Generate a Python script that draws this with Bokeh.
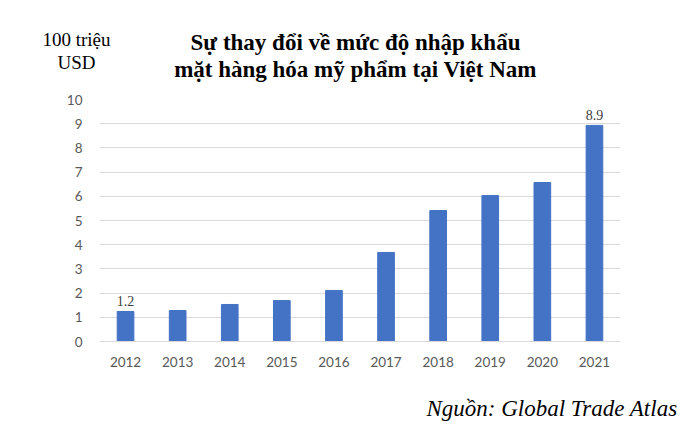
from bokeh.plotting import figure
from bokeh.models import ColumnDataSource, Label, LabelSet, Range1d
from bokeh.embed import file_html
from bokeh.resources import INLINE

years = ["2012", "2013", "2014", "2015", "2016", "2017", "2018", "2019", "2020", "2021"]
values = [1.24, 1.28, 1.53, 1.69, 2.11, 3.68, 5.41, 6.03, 6.57, 8.93]
bar_labels = ["1.2", "", "", "", "", "", "", "", "", "8.9"]
y_ticks = [0, 1, 2, 3, 4, 5, 6, 7, 8, 9, 10]

title_lines = ["Sự thay đổi về mức độ nhập khẩu", "mặt hàng hóa mỹ phẩm tại Việt Nam"]
unit_lines = ["100 triệu", "USD"]
source_text = "Nguồn: Global Trade Atlas"

W = 687


def text_fig(h):
    f = figure(width=W, height=h, x_range=Range1d(0, 1), y_range=Range1d(0, 1),
               output_backend="svg", toolbar_location=None,
               min_border=0, x_axis_type=None, y_axis_type=None)
    f.outline_line_color = None
    f.xgrid.visible = False
    f.ygrid.visible = False
    return f


# --- header ---
top = text_fig(84)
for txt, yy in zip(title_lines, [42, 15]):
    top.add_layout(Label(x=355, y=yy, x_units="screen", y_units="screen", text=txt,
                         text_align="center", text_baseline="middle",
                         text_font="Liberation Serif", text_font_style="bold",
                         text_font_size="23px", text_color="#000000"))
for txt, yy in zip(unit_lines, [45, 22]):
    top.add_layout(Label(x=76, y=yy, x_units="screen", y_units="screen", text=txt,
                         text_align="center", text_baseline="middle",
                         text_font="Liberation Serif", text_font_size="19px",
                         text_color="#000000"))

# --- chart ---
src = ColumnDataSource(dict(x=years, top=values, lab=bar_labels))
p = figure(x_range=years, y_range=(0, 10), width=W, height=304,
           output_backend="svg", toolbar_location=None,
           min_border_left=99, min_border_right=67, min_border_top=15, min_border_bottom=47)
p.outline_line_color = None
p.vbar(x="x", top="top", width=0.32, source=src, color="#4472C4")
p.add_layout(LabelSet(x="x", y="top", text="lab", source=src, text_align="center",
                      text_baseline="bottom", y_offset=5, text_font="Lato",
                      text_font_size="14px", text_color="#404040"))

p.yaxis.ticker = y_ticks
p.yaxis.axis_line_color = None
p.yaxis.major_tick_line_color = None
p.yaxis.minor_tick_line_color = None
p.yaxis.major_label_standoff = 11
p.yaxis.major_label_text_font = "Lato"
p.yaxis.major_label_text_font_size = "13.5px"
p.yaxis.major_label_text_color = "#595959"

p.xaxis.axis_line_color = "#D9D9D9"
p.xaxis.major_tick_line_color = None
p.xaxis.minor_tick_line_color = None
p.xaxis.major_label_standoff = 9
p.xaxis.major_label_text_font = "Lato"
p.xaxis.major_label_text_font_size = "13.5px"
p.xaxis.major_label_text_color = "#595959"

p.xgrid.grid_line_color = None
p.ygrid.grid_line_color = "#D9D9D9"

# --- footer ---
bot = text_fig(39)
bot.add_layout(Label(x=677, y=19, x_units="screen", y_units="screen", text=source_text,
                     text_align="right", text_baseline="middle",
                     text_font="Liberation Serif", text_font_style="italic",
                     text_font_size="23px", text_color="#000000"))

open("out.html", "w").write(file_html([top, p, bot], INLINE))
